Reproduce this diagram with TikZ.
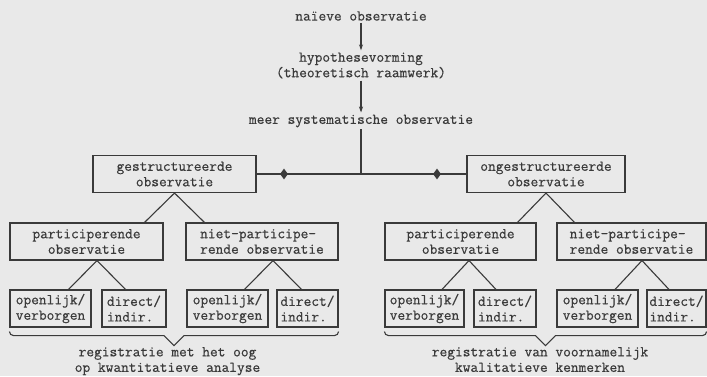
\documentclass[tikz,border=0pt]{standalone}
\usepackage{fontspec}
\newfontfamily\tw{Latin Modern Mono}[FakeBold=0.5]
\usetikzlibrary{arrows.meta,calc,shapes.geometric}
\definecolor{bg}{RGB}{233,233,233}
\definecolor{ink}{RGB}{58,58,58}
\newcommand\mylegs[5]{%
  \draw[ln] let \p1=($(#1.south)+(#2,0)$), \p2=(#3.north), \p3=(#4.north) in
    (\x1-#5bp,\y2) -- (\p1) -- (\x1+#5bp,\y3);}
\newcommand\mybrace[2]{%
  \draw[ln] let \p1=(#1.south west), \p2=(#2.south east) in
    (\x1,\y1-4bp) to[out=-90,in=180] (\x1+4bp,\y1-8bp)
    -- ({(\x1+\x2)/2-10bp},\y1-8bp) -- ({(\x1+\x2)/2},\y1-18bp)
    -- ({(\x1+\x2)/2+10bp},\y1-8bp) -- (\x2-4bp,\y1-8bp)
    to[out=0,in=-90] (\x2,\y1-4bp);}
\begin{document}
\begin{tikzpicture}[x=1bp,y=-1bp,
  every node/.style={font=\tw\fontsize{15bp}{15.5bp}\selectfont, text=ink, inner sep=2bp},
  box/.style={draw=ink, line width=1.1bp, minimum height=37bp, inner sep=0bp, align=center},
  lbox/.style={box, align=left},
  ln/.style={draw=ink, line width=1.1bp},
  arr/.style={ln, -{Stealth[length=6bp,width=4bp]}},
  dia/.style={diamond, fill=ink, inner sep=0bp, minimum width=8bp, minimum height=11bp}]
\fill[bg] (0,0) rectangle (707,376);
\useasboundingbox (0,0) rectangle (707,376);
\clip (0,0) rectangle (707,376);

% top chain
\node (n1) at (361,16) {naïeve observatie};
\node[align=center] (n2) at (361,65.5) {hypothesevorming\\(theoretisch raamwerk)};
\node (n3) at (361,121) {meer systematische observatie};
\draw[arr] (n1) -- (n2);
\draw[arr] (n2) -- (n3);
\coordinate (J) at (361,174);
\draw[ln] (n3) -- (J);

% level 2
\node[box,minimum width=163bp] (A) at (174.5,174) {gestructureerde\\observatie};
\node[box,minimum width=158bp] (B) at (546,174) {ongestructureerde\\observatie};
\draw[ln] (A) -- (B);
\node[dia] (d1) at (284,174) {};
\node[dia] (d2) at (437,174) {};

% level 3
\node[box,minimum width=153bp] (A1) at (86.5,241.5) {participerende\\observatie};
\node[lbox,minimum width=152bp] (A2) at (262,241.5) {niet-participe-\\rende observatie};
\node[box,minimum width=151bp] (B1) at (460.5,241.5) {participerende\\observatie};
\node[lbox,minimum width=149bp] (B2) at (631.5,241.5) {niet-participe-\\rende observatie};
\mylegs{A}{0}{A1}{A2}{30}
\mylegs{B}{0}{B1}{B2}{28.5}

% level 4
\node[lbox,minimum width=81bp] (L1) at (50.5,308.5) {openlijk/\\verborgen};
\node[lbox,minimum width=64bp] (L2) at (134,308.5) {direct/\\indir.};
\node[lbox,minimum width=81bp] (L3) at (227.5,308.5) {openlijk/\\verborgen};
\node[lbox,minimum width=61bp] (L4) at (307.5,308.5) {direct/\\indir.};
\node[lbox,minimum width=79bp] (R1) at (424.5,308.5) {openlijk/\\verborgen};
\node[lbox,minimum width=62bp] (R2) at (505,308.5) {direct/\\indir.};
\node[lbox,minimum width=81bp] (R3) at (597.5,308.5) {openlijk/\\verborgen};
\node[lbox,minimum width=59bp] (R4) at (676.5,308.5) {direct/\\indir.};
\mylegs{A1}{10.5}{L1}{L2}{28.5}
\mylegs{A2}{11}{L3}{L4}{28.5}
\mylegs{B1}{8.5}{R1}{R2}{27}
\mylegs{B2}{10.5}{R3}{R4}{27}

% braces and captions
\mybrace{L1}{L4}
\mybrace{R1}{R4}
\node[align=center, anchor=north] (c1) at (167.5,345) {registratie met het oog\\op kwantitatieve analyse};
\node[align=center, anchor=north] (c2) at (540,345) {registratie van voornamelijk\\kwalitatieve kenmerken};
\end{tikzpicture}
\end{document}
